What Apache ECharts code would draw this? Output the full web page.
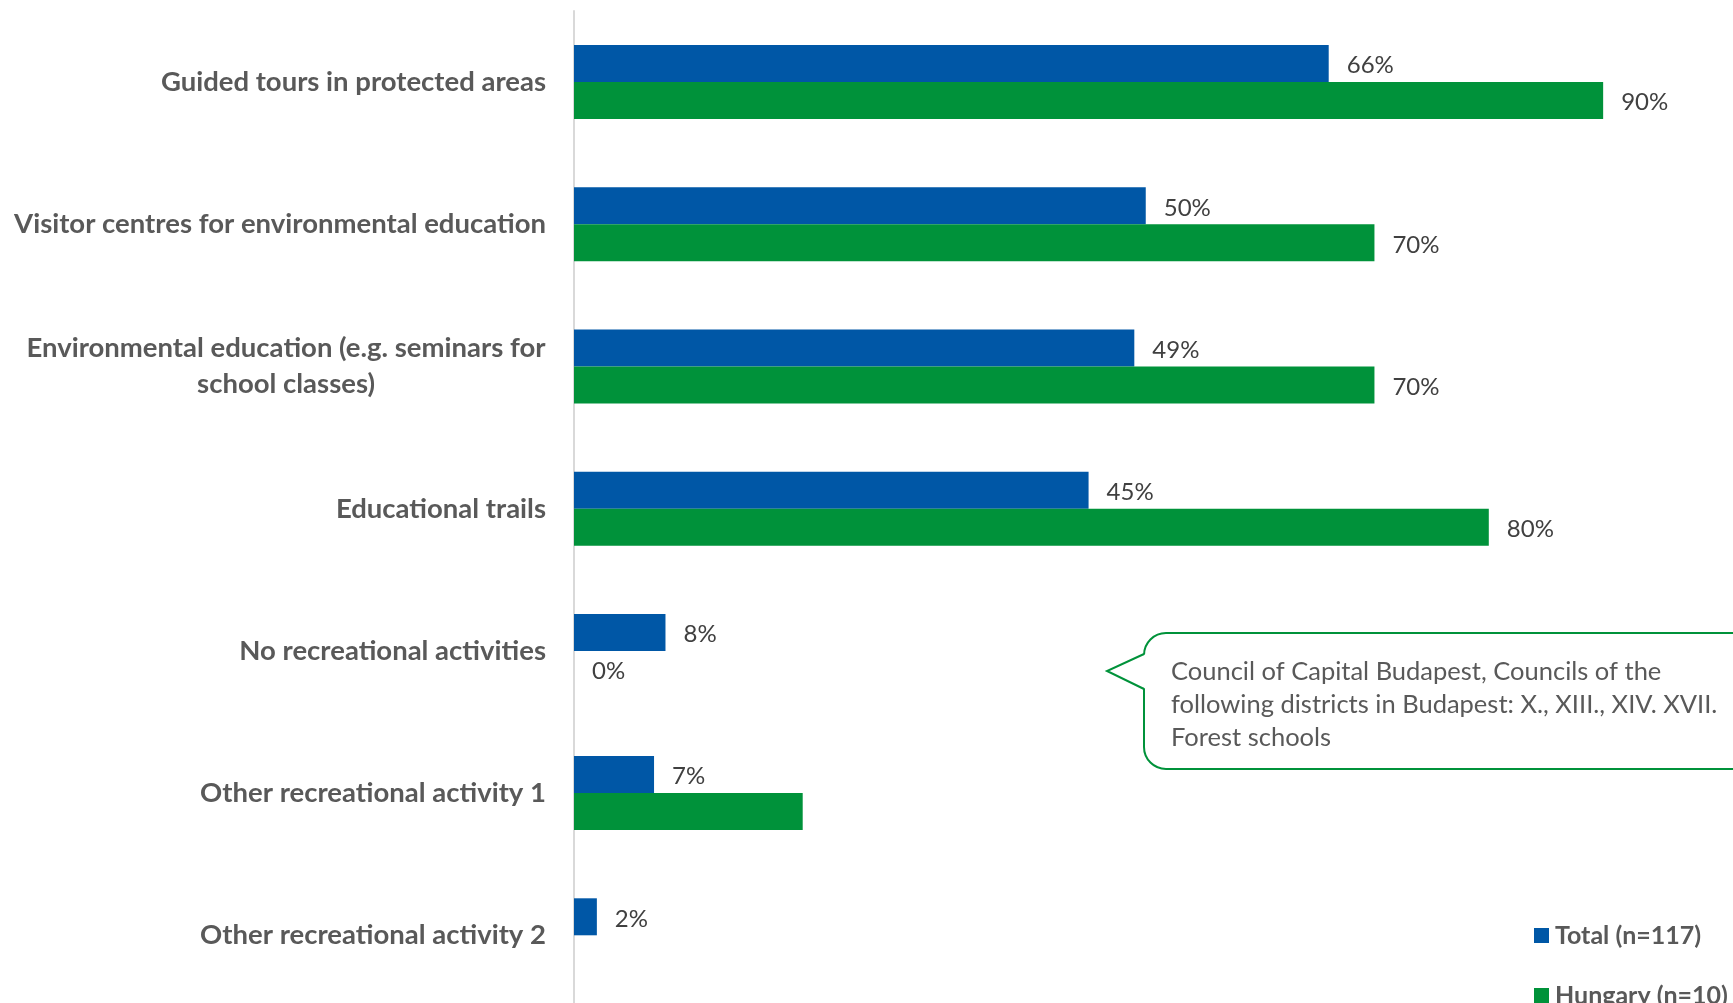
<!DOCTYPE html>
<html>
<head>
<meta charset="utf-8">
<script src="https://cdn.jsdelivr.net/npm/echarts@6/dist/echarts.min.js"></script>
<style>
  html, body { margin: 0; padding: 0; background: #ffffff; }
  #chart { width: 1733px; height: 1003px; }
</style>
</head>
<body>
<div id="chart"></div>
<script>
// Recreational / educational activities offered
const categories = [
  'Guided tours in protected areas',
  'Visitor centres for environmental education',
  'Environmental education (e.g. seminars for\nschool classes)',
  'Educational trails',
  'No recreational activities',
  'Other recreational activity 1',
  'Other recreational activity 2'
];
const totalValues = [66, 50, 49, 45, 8, 7, 2];
const hungaryValues = [90, 70, 70, 80, 0, 20, null];
// Hungary bars whose value label is not printed
const hungaryUnlabelled = [5];

const seriesNames = ['Total (n=117)', 'Hungary (n=10)'];
const noteLines = [
  'Council of Capital Budapest, Councils of the',
  'following districts in Budapest: X., XIII., XIV. XVII.',
  'Forest schools'
];

const BLUE = '#0057a6';
const GREEN = '#00923a';
const FONT = 'Lato';
const CAT_SIZE = 27.5;
const VAL_SIZE = 24;

// pixel width of a string, used to centre the lines of a wrapped category
function textWidth(str, font) {
  const ctx = document.createElement('canvas').getContext('2d');
  ctx.font = font;
  return Math.ceil(ctx.measureText(str).width);
}
const wrappedWidth = Math.max.apply(null,
  categories.filter(function (c) { return c.indexOf('\n') >= 0; })
    .join('\n').split('\n')
    .map(function (l) { return textWidth(l, 'bold ' + CAT_SIZE + 'px ' + FONT); }));

const chart = echarts.init(document.getElementById('chart'), null, { renderer: 'canvas' });

const valueLabel = {
  show: true, position: 'right', distance: 18, offset: [0, 2],
  formatter: '{c}%', color: '#404040',
  fontFamily: FONT, fontSize: VAL_SIZE
};

function legendFor(name, top) {
  return {
    orient: 'vertical',
    left: 1534,
    top: top,
    padding: 0,
    itemWidth: 15,
    itemHeight: 15,
    icon: 'rect',
    textStyle: {
      color: '#595959',
      fontFamily: FONT,
      fontWeight: 'bold',
      fontSize: 25,
      lineHeight: 24,
      padding: [0, 0, 0, 1]
    },
    data: [name]
  };
}

const option = {
  backgroundColor: '#ffffff',
  animation: false,
  grid: {
    left: 574, right: 15.5, top: 11, bottom: -3.4,
    containLabel: false, outerBoundsMode: 'none'
  },
  xAxis: {
    type: 'value', min: 0, max: 100,
    show: false
  },
  yAxis: {
    type: 'category',
    data: categories,
    inverse: true,
    axisLine: { show: true, lineStyle: { color: '#d9d9d9', width: 2 } },
    axisTick: { show: false },
    axisLabel: {
      margin: 28,
      align: 'right',
      color: '#595959',
      fontFamily: FONT,
      fontWeight: 'bold',
      fontSize: CAT_SIZE,
      lineHeight: 36,
      formatter: function (v) {
        if (v.indexOf('\n') < 0) return v;
        return v.split('\n').map(function (l) { return '{c|' + l + '}'; }).join('\n');
      },
      rich: {
        c: {
          width: wrappedWidth,
          align: 'center',
          color: '#595959',
          fontFamily: FONT,
          fontWeight: 'bold',
          fontSize: CAT_SIZE,
          lineHeight: 36
        }
      }
    }
  },
  legend: [legendFor(seriesNames[0], 923), legendFor(seriesNames[1], 983)],
  series: [
    {
      name: seriesNames[0],
      type: 'bar',
      data: totalValues,
      barWidth: 37,
      barGap: '0%',
      itemStyle: { color: BLUE },
      label: valueLabel
    },
    {
      name: seriesNames[1],
      type: 'bar',
      data: hungaryValues.map(function (v, i) {
        return hungaryUnlabelled.indexOf(i) >= 0 ? { value: v, label: { show: false } } : v;
      }),
      barWidth: 37,
      barGap: '0%',
      itemStyle: { color: GREEN },
      label: valueLabel
    }
  ],
  graphic: [
    {
      type: 'rect',
      shape: { x: 1144, y: 633, width: 640, height: 136, r: 22 },
      style: { fill: '#ffffff', stroke: GREEN, lineWidth: 2 },
      z: 10
    },
    {
      type: 'polygon',
      shape: { points: [[1107, 671], [1146, 654], [1146, 689]] },
      style: { fill: '#ffffff', stroke: null },
      z: 11
    },
    {
      type: 'polyline',
      shape: { points: [[1144, 654], [1107, 671], [1144, 689]] },
      style: { stroke: GREEN, lineWidth: 2, fill: null },
      z: 12
    },
    {
      type: 'text',
      left: 1171,
      top: 655,
      z: 13,
      style: {
        text: noteLines.join('\n'),
        fill: '#595959',
        font: '25.5px Lato',
        lineHeight: 33
      }
    }
  ]
};

chart.setOption(option);
</script>
</body>
</html>
